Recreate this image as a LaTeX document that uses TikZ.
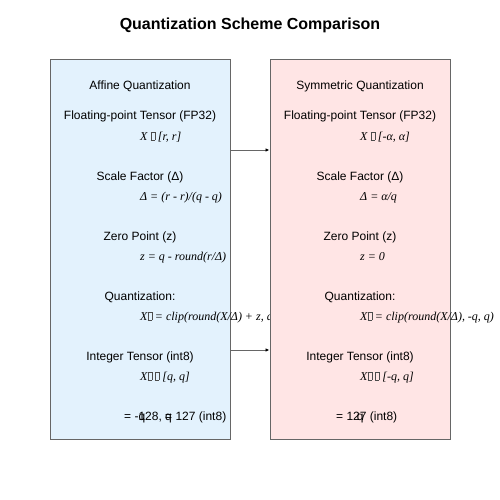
\documentclass[tikz,border=0pt]{standalone}
\usepackage{fontspec}
\setmainfont{Liberation Sans}
\newfontfamily\formfont{Liberation Serif}
\usetikzlibrary{arrows.meta,positioning}
\definecolor{affinebg}{RGB}{227,242,253}
\definecolor{symmbg}{RGB}{255,229,229}
% empty box for a glyph the font lacks
\newcommand{\nog}{{\setlength{\fboxsep}{0pt}\setlength{\fboxrule}{0.3pt}\color{black!70}\fbox{\rule{0pt}{0.62em}\hspace{0.32em}}}}

\begin{document}
\begin{tikzpicture}[x=1pt, y=-1pt, every node/.style={inner sep=0pt, font=\fontsize{12}{14}\selectfont}]
        \tikzstyle{panel}=[draw=black!60, line width=1pt, minimum width=180pt, minimum height=379pt]
        \tikzstyle{label}=[anchor=base]
        \tikzstyle{formula}=[anchor=base west, font=\fontsize{12}{14}\selectfont\formfont\itshape]
        \useasboundingbox (0,0) rectangle (500,500);
        \node[anchor=base, font=\fontsize{16}{19}\selectfont\bfseries] (title) at (250,30) {Quantization Scheme Comparison};
        % affine side
        \node[panel, fill=affinebg] (affine) at (140,249.5) {};
        \node[label] (afftitle) at (140,90) {Affine Quantization};
        \node[label] (affin) at (140,120) {Floating-point Tensor (FP32)};
        \node[formula] (affinf) at (140,140) {X \nog{} [r, r]};
        \node[label] (affscale) at (140,180) {Scale Factor (Δ)};
        \node[formula] (affscalef) at (140,200) {Δ = (r - r)/(q - q)};
        \node[label] (affzero) at (140,240) {Zero Point (z)};
        \node[formula] (affzerof) at (140,260) {z = q - round(r/Δ)};
        \node[label] (affquant) at (140,300) {Quantization:};
        \node[formula] (affquantf) at (140,320) {X\nog{} = clip(round(X/Δ) + z, q};
        \node[label] (affout) at (140,360) {Integer Tensor (int8)};
        \node[formula] (affoutf) at (140,380) {X\nog{} \nog{} [q, q]};
        \node[anchor=base west] (affrange) at (124,420) {= -\rlap{q}128, \rlap{q}= 127 (int8)};
        % symmetric side
        \node[panel, fill=symmbg] (symm) at (360,249.5) {};
        \node[label] (symtitle) at (360,90) {Symmetric Quantization};
        \node[label] (symin) at (360,120) {Floating-point Tensor (FP32)};
        \node[formula] (syminf) at (360,140) {X \nog{} [-α, α]};
        \node[label] (symscale) at (360,180) {Scale Factor (Δ)};
        \node[formula] (symscalef) at (360,200) {Δ = α/q};
        \node[label] (symzero) at (360,240) {Zero Point (z)};
        \node[formula] (symzerof) at (360,260) {z = 0};
        \node[label] (symquant) at (360,300) {Quantization:};
        \node[formula] (symquantf) at (360,320) {X\nog{} = clip(round(X/Δ), -q, q)};
        \node[label] (symout) at (360,360) {Integer Tensor (int8)};
        \node[formula] (symoutf) at (360,380) {X\nog{} \nog{} [-q, q]};
        \node[anchor=base west] (symrange) at (336,420) {= 12\rlap{\kern-0.25em q}7 (int8)};
        % links between the two panels
        \draw[black!60, line width=1pt, -{Latex[black, length=4pt, width=3.5pt]}] ([yshift=99.5pt]affine.east) -- ([yshift=99.5pt]symm.west);
        \draw[black!60, line width=1pt, -{Latex[black, length=4pt, width=3.5pt]}] ([yshift=-100.5pt]affine.east) -- ([yshift=-100.5pt]symm.west);
\end{tikzpicture}
\end{document}
